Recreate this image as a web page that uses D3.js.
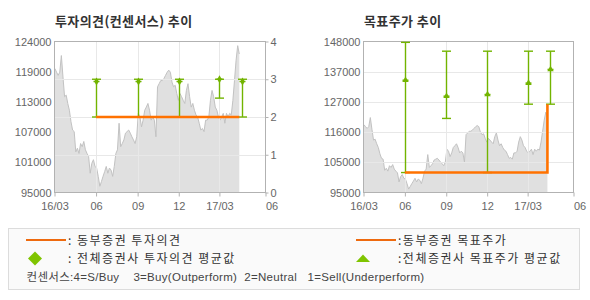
<!DOCTYPE html>
<html>
<meta charset="utf-8">
<title>투자의견 / 목표주가 추이</title>
<style>
body { margin: 0; background: #fff; }
text { font-family: "Liberation Sans", "Noto Sans CJK KR", sans-serif; }
.kr { font-family: "Noto Sans CJK KR", sans-serif; }
</style>
<body>
<svg id="chart" width="590" height="300"></svg>
<script src="https://cdn.jsdelivr.net/npm/d3@7/dist/d3.min.js"></script>
<script>
// x axis (quarters)
var quarterDates = ["2016-03-01", "2016-06-01", "2016-09-01", "2016-12-01", "2017-03-01", "2017-06-11"];
var quarterLabels = ["16/03", "06", "09", "12", "17/03", "06"];

// stock price (gray area), samples spread evenly from start to end
var priceStart = "2016-03-02", priceEnd = "2017-04-14";
var prices = [
  118800, 118100, 117500, 118100, 121300, 117200, 113400, 113700, 112100, 110800,
  108600, 107000, 106700, 102800, 103500, 102500, 104400, 103800, 104800, 103200,
  102500, 101900, 98700, 100600, 101300, 100000, 99700, 98100, 96200, 97100,
  98100, 99000, 100000, 98700, 99700, 99300, 98100, 100000, 102500, 103200,
  108300, 103800, 104400, 105100, 106400, 106700, 107000, 106400, 105700, 105100,
  104400, 105700, 110200, 109500, 107600, 108900, 110800, 111400, 112100, 110800,
  108900, 109500, 108900, 105700, 115300, 115900, 116500, 116500, 116900, 117500,
  118100, 118500, 118100, 116200, 115300, 115600, 114000, 112700, 114000, 113400,
  112700, 112100, 114600, 115900, 113400, 111400, 112100, 110800, 109900, 109500,
  108300, 107000, 107300, 106700, 108900, 108900, 109500, 112700, 114600, 113400,
  111400, 110800, 109500, 108900, 109500, 110200, 108300, 110200, 109500, 110200,
  109900, 112700, 116500, 120400, 123200, 121600
];

// left panel: 투자의견
var opinionTicks = [0, 1, 2, 3, 4];
var priceTicksL = [95000, 100800, 106600, 112400, 118200, 124000];
var priceLabelsL = ["95000", "101000", "107000", "113000", "119000", "124000"];
var dongbuOpinionDates = ["2016-06-01", "2017-04-14"];
var dongbuOpinion = [2, 2];
var consDates = ["2016-06-01", "2016-09-01", "2016-12-01", "2017-03-01", "2017-04-19"];
var opinionHigh = [3, 3, 3, 3, 3];
var opinionLow = [2, 2, 2, 2.5, 2];
var opinionAvg = [2.94, 2.94, 2.94, 3, 2.94];

// right panel: 목표주가
var priceTicksR = [95000, 105600, 116200, 126800, 137400, 148000];
var priceLabelsR = ["95000", "105000", "116000", "127000", "137000", "148000"];
var dongbuTargetDates = ["2016-06-01", "2017-04-14", "2017-04-14"];
var dongbuTarget = [102000, 102000, 126000];
var targetHigh = [147700, 144600, 144600, 144600, 144600];
var targetLow = [102000, 121000, 102000, 126000, 126000];
var targetAvg = [134400, 128800, 129400, 133400, 138200];

var parse = d3.timeParse("%Y-%m-%d");
var t0 = parse(priceStart), t1 = parse(priceEnd);
var priceData = prices.map(function (v, i) {
  return { date: new Date(+t0 + i * (t1 - t0) / (prices.length - 1)), v: v };
});

var ORANGE = "#ff7200", GREEN = "#72b400", GRID = "#e8e8e8", FRAME = "#b2b2b2", LABEL = "#666";
var plotTop = 41.5, plotBottom = 192.5;
var svg = d3.select("#chart");

function drawPanel(x0, x1, title, yTicks, yLabels, gridScaleTicks, gridScale) {
  var g = svg.append("g");
  var x = d3.scaleTime().domain([parse(quarterDates[0]), parse(quarterDates[quarterDates.length - 1])]).range([x0, x1]);
  var y = d3.scaleLinear().domain([yTicks[0], yTicks[yTicks.length - 1]]).range([plotBottom, plotTop]);

  g.append("text").attr("class", "kr").attr("x", x0 + 0.5).attr("y", 25.5)
    .attr("font-size", 13).attr("letter-spacing", 0.4).attr("font-weight", "bold").attr("fill", "#333").text(title);

  // price area
  g.append("path").datum(priceData)
    .attr("fill", "#e0e0e0")
    .attr("d", d3.area().x(function (d) { return x(d.date); }).y0(y(yTicks[0])).y1(function (d) { return y(d.v); }));
  g.append("path").datum(priceData)
    .attr("fill", "none").attr("stroke", "#c2c2c2").attr("stroke-width", 1)
    .attr("d", d3.line().x(function (d) { return x(d.date); }).y(function (d) { return y(d.v); }));

  // grid
  g.selectAll(".vg").data(quarterDates.slice(1, -1)).enter().append("line")
    .attr("x1", function (d) { return Math.round(x(parse(d))) + 0.5; })
    .attr("x2", function (d) { return Math.round(x(parse(d))) + 0.5; })
    .attr("y1", plotTop).attr("y2", plotBottom).attr("stroke", GRID);
  g.selectAll(".hg").data(gridScaleTicks.slice(1, -1)).enter().append("line")
    .attr("x1", x0).attr("x2", x1)
    .attr("y1", function (d) { return Math.round(gridScale(d)) + 0.5; })
    .attr("y2", function (d) { return Math.round(gridScale(d)) + 0.5; })
    .attr("stroke", GRID);

  // frame
  g.append("rect").attr("x", x0).attr("y", plotTop).attr("width", x1 - x0).attr("height", plotBottom - plotTop)
    .attr("fill", "none").attr("stroke", FRAME);

  // axes
  var xa = g.append("g").attr("transform", "translate(0," + plotBottom + ")")
    .call(d3.axisBottom(x).tickValues(quarterDates.map(parse)).tickSize(4).tickPadding(6)
      .tickFormat(function (d, i) { return quarterLabels[i]; }));
  xa.select(".domain").remove();
  xa.selectAll("line").attr("stroke", FRAME);
  xa.selectAll("text").attr("fill", LABEL).attr("font-size", 11);
  xa.selectAll(".tick:last-of-type text").attr("text-anchor", "start");

  var ya = g.append("g").attr("transform", "translate(" + x0 + ",0)")
    .call(d3.axisLeft(y).tickValues(yTicks).tickSize(0).tickPadding(3)
      .tickFormat(function (d, i) { return yLabels[i]; }));
  ya.select(".domain").remove();
  ya.selectAll("text").attr("fill", LABEL).attr("font-size", 11);

  return { g: g, x: x, y: y };
}

function errorBars(p, yScale, high, low, avg, marker) {
  var g = p.g.append("g").attr("stroke", GREEN).attr("stroke-width", 1.4).attr("fill", GREEN);
  consDates.forEach(function (d, i) {
    var cx = Math.round(p.x(parse(d))) + 0.5;
    g.append("line").attr("x1", cx).attr("x2", cx).attr("y1", yScale(high[i])).attr("y2", yScale(low[i]));
    [high[i], low[i]].forEach(function (v) {
      g.append("line").attr("x1", cx - 4.5).attr("x2", cx + 4.5).attr("y1", yScale(v)).attr("y2", yScale(v));
    });
    g.append("line").attr("x1", cx - 3).attr("x2", cx + 3).attr("y1", yScale(avg[i])).attr("y2", yScale(avg[i]));
    g.append("path").attr("stroke", "none")
      .attr("transform", "translate(" + cx + "," + yScale(avg[i]) + ")")
      .attr("d", d3.symbol().type(marker).size(18)());
  });
}

// left panel
var yOp = d3.scaleLinear().domain([0, 4]).range([plotBottom, plotTop]);
var left = drawPanel(54.5, 265.5, "투자의견(컨센서스) 추이", priceTicksL, priceLabelsL, opinionTicks, yOp);
var ra = left.g.append("g").attr("transform", "translate(265.5,0)")
  .call(d3.axisRight(yOp).tickValues(opinionTicks).tickSize(3).tickPadding(2).tickFormat(d3.format("d")));
ra.select(".domain").remove();
ra.selectAll("line").attr("stroke", FRAME);
ra.selectAll("text").attr("fill", LABEL).attr("font-size", 11);
errorBars(left, yOp, opinionHigh, opinionLow, opinionAvg, d3.symbolDiamond);
left.g.append("path")
  .datum(dongbuOpinionDates.map(function (d, i) { return { date: parse(d), v: dongbuOpinion[i] }; }))
  .attr("fill", "none").attr("stroke", ORANGE).attr("stroke-width", 2.6)
  .attr("d", d3.line().x(function (d) { return left.x(d.date); }).y(function (d) { return yOp(d.v); }));

// right panel
var right = drawPanel(363.5, 573.5, "목표주가 추이", priceTicksR, priceLabelsR, priceTicksR,
  d3.scaleLinear().domain([95000, 148000]).range([plotBottom, plotTop]));
errorBars(right, right.y, targetHigh, targetLow, targetAvg, d3.symbolTriangle);
right.g.append("path")
  .datum(dongbuTargetDates.map(function (d, i) { return { date: parse(d), v: dongbuTarget[i] }; }))
  .attr("fill", "none").attr("stroke", ORANGE).attr("stroke-width", 2.6)
  .attr("d", d3.line().x(function (d) { return right.x(d.date); }).y(function (d) { return right.y(d.v); }));

// legend
var lg = svg.append("g");
lg.append("rect").attr("x", 8.5).attr("y", 228.5).attr("width", 571).attr("height", 61)
  .attr("fill", "#fafafa").attr("stroke", "#dcdcdc");
lg.append("line").attr("x1", 26).attr("x2", 66).attr("y1", 240).attr("y2", 240).attr("stroke", "#ee6a0e").attr("stroke-width", 2);
lg.append("line").attr("x1", 356).attr("x2", 396).attr("y1", 240).attr("y2", 240).attr("stroke", "#ee6a0e").attr("stroke-width", 2);
lg.append("path").attr("fill", "#7fc400").attr("d", "M35,251.5L42,258.5L35,265.5L28,258.5Z");
lg.append("path").attr("fill", "#7fc400").attr("d", "M356,262L370,262L363,254.5Z");
var legendText = [
  { x: 68, y: 244.5, t: ": 동부증권  투자의견" },
  { x: 68, y: 262.5, t: ": 전체증권사 투자의견 평균값" },
  { x: 398, y: 244.5, t: ":동부증권 목표주가" },
  { x: 398, y: 262.5, t: ":전체증권사 목표주가 평균값" }
];
lg.selectAll(".lt").data(legendText).enter().append("text").attr("class", "kr")
  .attr("x", function (d) { return d.x; }).attr("y", function (d) { return d.y; })
  .attr("font-size", 12).attr("letter-spacing", 1.5).attr("fill", "#333").text(function (d) { return d.t; });
lg.append("text").attr("x", 26.5).attr("y", 281).attr("font-size", 11.5).attr("letter-spacing", 0.3).attr("fill", "#444")
  .attr("xml:space", "preserve").style("white-space", "pre")
  .text("컨센서스:4=S/Buy    3=Buy(Outperform)  2=Neutral   1=Sell(Underperform)");
</script>
</body>
</html>
